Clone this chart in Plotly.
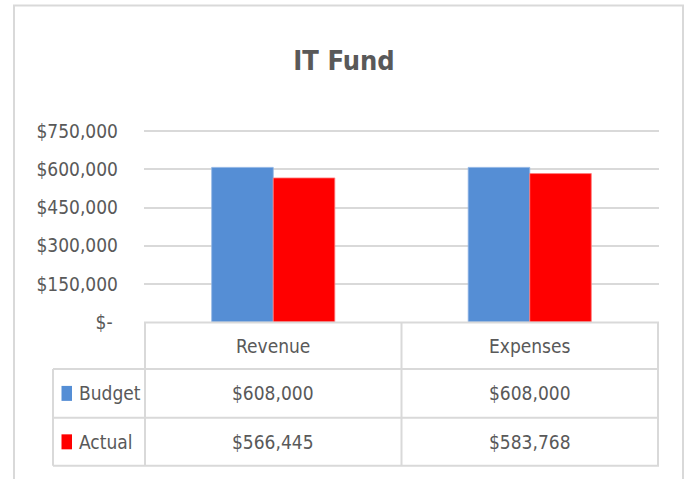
import plotly.graph_objects as go

# ---------------- data ----------------
categories = ["Revenue", "Expenses"]
series_names = ["Budget", "Actual"]
budget_values = [608000, 608000]
actual_values = [566445, 583768]
series_colors = ["#558ED5", "#FF0000"]
series_edges = ["#8EB4E3", "#FF7F7F"]
tick_values = [0, 150000, 300000, 450000, 600000, 750000]
tick_labels = ["$-\u00a0", "$150,000", "$300,000", "$450,000", "$600,000", "$750,000"]
chart_title = "IT Fund"

W, H = 688, 479
Y_MAX = 755000
PL, PR, PB = 144, 659, 322          # plot area in pixels
PT = PB - (PB - 131) * Y_MAX / 750000
FONT = "DejaVu Sans Condensed, DejaVu Sans, sans-serif"
TXT = "#595959"
GRID = "#D9D9D9"
FS = 19

def px(xp):
    return (xp - PL) / (PR - PL)

def py(yp):
    return (PB - yp) / (PB - PT)

series_values = [budget_values, actual_values]

fig = go.Figure()
for name, vals, col, edge in zip(series_names, series_values, series_colors, series_edges):
    fig.add_trace(go.Bar(
        x=categories, y=vals, name=name,
        marker=dict(color=col, line=dict(color=edge, width=0.8)),
        showlegend=False, hoverinfo="skip",
    ))

shapes = []
annotations = []

# outer chart border
shapes.append(dict(type="rect", xref="paper", yref="paper",
                   x0=px(14), x1=px(683), y0=py(490), y1=py(5),
                   line=dict(color=GRID, width=2), fillcolor="rgba(0,0,0,0)", layer="below"))

# data table geometry (pixel rows)
row_lines = [322.5, 369, 418, 466]
label_left = 53

shapes.append(dict(type="line", xref="paper", yref="paper",
                   x0=px(PL), x1=px(PR), y0=py(row_lines[0]), y1=py(row_lines[0]),
                   line=dict(color=GRID, width=2)))
for yl in row_lines[1:]:
    shapes.append(dict(type="line", xref="paper", yref="paper",
                       x0=px(label_left), x1=px(PR), y0=py(yl), y1=py(yl),
                       line=dict(color=GRID, width=2)))
shapes.append(dict(type="line", xref="paper", yref="paper",
                   x0=px(label_left), x1=px(label_left), y0=py(row_lines[1]), y1=py(row_lines[-1]),
                   line=dict(color=GRID, width=2)))
for i in range(len(categories) + 1):
    xb = i - 0.5
    shapes.append(dict(type="line", xref="x", yref="paper",
                       x0=xb, x1=xb, y0=py(row_lines[0]), y1=py(row_lines[-1]),
                       line=dict(color=GRID, width=2)))

hdr_y = (row_lines[0] + row_lines[1]) / 2
for c in categories:
    annotations.append(dict(x=c, y=py(hdr_y), xref="x", yref="paper", text=c,
                            showarrow=False, xanchor="center", yanchor="middle",
                            font=dict(family=FONT, size=FS, color=TXT)))

for r, (name, vals, col) in enumerate(zip(series_names, series_values, series_colors)):
    yc = (row_lines[r + 1] + row_lines[r + 2]) / 2
    shapes.append(dict(type="rect", xref="paper", yref="paper",
                       x0=px(61.5), x1=px(72), y0=py(yc + 7.5), y1=py(yc - 7.5),
                       fillcolor=col, line=dict(width=0)))
    annotations.append(dict(x=px(77), y=py(yc), xref="paper", yref="paper", text=name,
                            showarrow=False, xanchor="left", yanchor="middle",
                            font=dict(family=FONT, size=FS, color=TXT)))
    for c, v in zip(categories, vals):
        annotations.append(dict(x=c, y=py(yc), xref="x", yref="paper", text=f"${v:,}",
                                showarrow=False, xanchor="center", yanchor="middle",
                                font=dict(family=FONT, size=FS, color=TXT)))

fig.update_layout(
    width=W, height=H,
    margin=dict(l=PL, r=W - PR, t=PT, b=H - PB, pad=0),
    paper_bgcolor="white", plot_bgcolor="white",
    barmode="group", bargap=0.52, bargroupgap=0,
    hovermode=False,
    title=dict(text=chart_title, x=0.5, xanchor="center", y=1 - 60.5 / H, yanchor="middle",
               font=dict(family=FONT, size=27, color=TXT, weight="bold")),
    xaxis=dict(showticklabels=False, showgrid=False, zeroline=False, showline=False,
               ticks="", fixedrange=True),
    yaxis=dict(range=[0, Y_MAX], tickvals=tick_values, ticktext=tick_labels,
               showgrid=True, gridcolor=GRID, gridwidth=2, zeroline=False, showline=False,
               ticks="", ticklabelstandoff=25, fixedrange=True,
               tickfont=dict(family=FONT, size=FS, color=TXT)),
    shapes=shapes, annotations=annotations,
)

fig.write_html("out.html", config={"displayModeBar": False},
               post_script="document.body.style.margin='0';document.body.style.overflow='hidden';")
